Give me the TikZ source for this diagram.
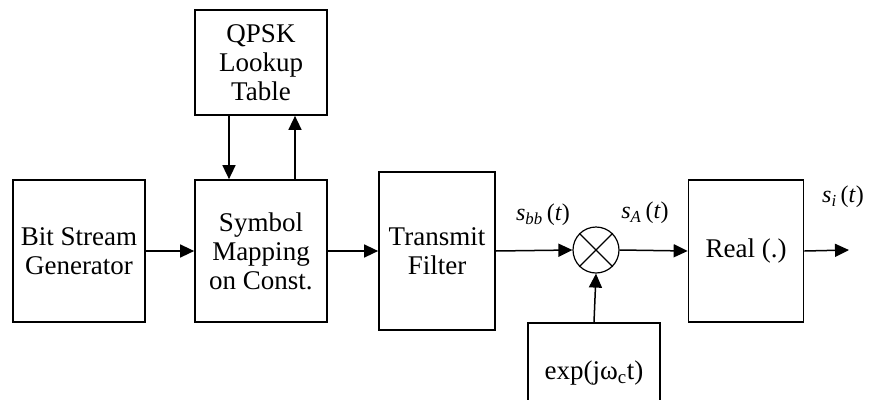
\documentclass[tikz,border=0pt]{standalone}
\usepackage{fontspec}
\setmainfont{Liberation Serif}
\usetikzlibrary{arrows.meta}
\tikzset{
  blk/.style={draw, line width=1.7pt, align=center, inner sep=0pt,
              font=\fontsize{27}{29}\selectfont},
  sig/.style={line width=1.5pt, -{Triangle[length=14pt,width=13pt]}},
  lbl/.style={font=\fontsize{24}{26}\selectfont, inner sep=0pt},
  mixer/.style={draw, circle, line width=1.2pt, inner sep=0pt, minimum size=46pt}
}
\begin{document}
\begin{tikzpicture}[x=1pt, y=-1pt]
  \useasboundingbox (0,0) rectangle (872,399);
  \clip (0,0) rectangle (872,399);

  % processing blocks
  \node[blk, minimum width=132pt, minimum height=142pt] (bsg) at (79,251) {Bit Stream\\Generator};
  \node[blk, minimum width=132pt, minimum height=142pt] (sym) at (261,251) {Symbol\\Mapping\\on Const.};
  \node[blk, minimum width=132pt, minimum height=105pt] (lut) at (261,62.5) {QPSK\\Lookup\\Table};
  \node[blk, minimum width=116pt, minimum height=158pt] (tf) at (437,251) {Transmit\\Filter};
  \node[blk, minimum width=115pt, minimum height=142pt] (re) at (746,251) {Real (.)};
  \node[blk, minimum width=132pt, minimum height=100pt] (osc) at (594,373) {exp(jω\textsubscript{c}t)};

  % multiplier
  \node[mixer] (mix) at (596,250) {};
  \draw[line width=1.2pt] (mix.north west) -- (mix.south east);
  \draw[line width=1.2pt] (mix.north east) -- (mix.south west);

  % output end
  \coordinate (out) at (849,250);

  % signal path
  \draw[sig] (bsg.east) -- (sym.west);
  \draw[sig] (sym.east) -- (tf.west);
  \draw[sig] (tf.east) -- (mix.west);
  \draw[sig] (mix.east) -- (re.west);
  \draw[sig] (re.east) -- (out);
  \draw[sig] (osc.north) -- (mix.south);

  % lookup table exchange
  \draw[sig] (lut.south -| 229,0) -- (sym.north -| 229,0);
  \draw[sig] (sym.north -| 295,0) -- (lut.south -| 295,0);

  % signal labels
  \node[lbl] (lbb) at (543,215) {\textit{s}\textsubscript{\textit{bb}}\,(\textit{t})};
  \node[lbl] (lA) at (645,213) {\textit{s}\textsubscript{\textit{A}}\,(\textit{t})};
  \node[lbl] (li) at (843,197) {\textit{s}\textsubscript{\textit{i}}\,(\textit{t})};
\end{tikzpicture}
\end{document}
